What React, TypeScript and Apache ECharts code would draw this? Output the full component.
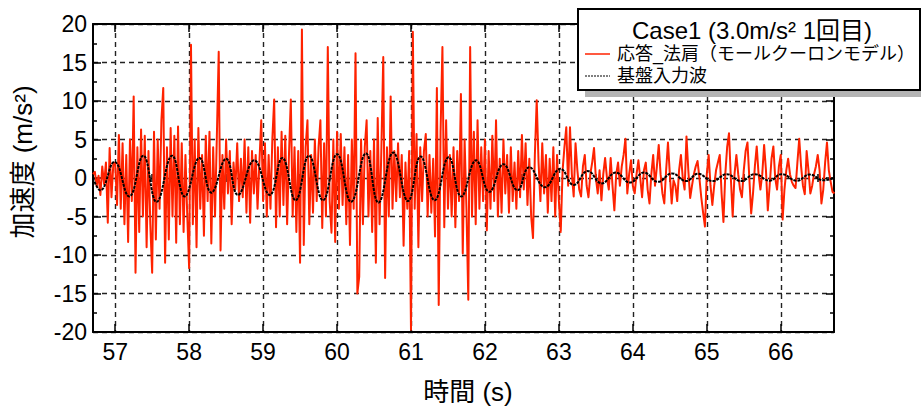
import React, { useEffect, useRef } from "react";
import * as echarts from "echarts";

// ---- Data ----
const sampleStep = 0.025; // s between samples of the response record

// Response acceleration (応答_法肩), one array per second, first value at the given start time
const redStarts = [56.7, 57, 58, 59, 60, 61, 62, 63, 64, 65, 66];
const red56 = [0.5, 0.8, -1.0, 0.3, -2.2, 1.5, -0.8, 2.0, -5.8, 3.9, -2.5, 1.8];
const red57 = [2.0, -3.5, 5.6, -4.0, 4.5, -6.0, 3.0, -8.3, 5.0, -3.0, 10.6, -12.3, 4.0, -7.0, 6.3, -5.0, 5.5, -9.0, 3.5, -6.0, -12.3, 6.0, -8.0, 5.0, -4.0, 7.5, 11.7, -11.0, 4.0, -8.0, 6.5, -5.0, 5.5, -8.4, 6.7, -6.0, 4.5, -7.0, 3.0, -5.0];
const red58 = [-11.7, 17.3, -6.0, 5.0, -9.0, 6.5, -4.0, 3.0, -7.5, 5.5, -3.0, 6.0, -8.5, 4.0, -5.0, 5.5, 16.4, -9.4, 3.0, -4.0, 5.0, -2.0, 3.5, -6.0, 2.0, -1.5, 4.5, -3.0, 2.5, -2.5, 5.0, -4.5, 4.0, -5.8, 3.5, -2.0, 3.0, -4.0, 2.0, 7.5];
const red59 = [-3.0, 4.5, -5.0, 3.0, -4.0, 5.0, 10.2, -6.4, 4.0, -5.0, 6.0, -3.5, 5.5, -6.0, 3.0, 10.2, -5.0, 4.0, -7.0, 3.5, -11.0, 19.3, -8.7, 4.0, 7.5, -6.0, 3.0, -4.5, 5.0, -3.0, 4.0, 7.5, -6.5, 4.5, -5.0, 17.0, -3.0, -7.1, 5.0, -8.3];
const red60 = [6.0, -4.0, 5.7, -3.5, 4.0, -6.0, 3.0, -8.7, 5.0, -4.0, 16.2, -15.0, -12.8, 5.0, -6.0, 4.0, 7.5, -5.0, 3.5, -7.0, 5.0, -11.0, 7.8, -6.0, 4.0, 15.7, -13.0, 4.0, -5.0, 10.6, -4.0, 3.5, -3.0, 4.5, -2.5, 3.0, -8.8, 2.0, -4.0, 3.5];
const red61 = [-19.7, 19.0, -4.0, 5.7, -9.0, 4.0, -3.0, 3.5, 5.7, -5.0, 3.0, -4.5, 2.5, -7.6, 11.7, -16.5, 6.0, 17.0, -6.4, 7.5, -4.0, 3.0, -5.0, 4.0, -6.4, 3.5, -3.0, 10.9, -9.8, 5.0, -4.0, -15.8, 17.0, -5.0, 6.0, -6.0, 7.5, -4.0, 4.0, -3.0];
const red62 = [5.0, -6.8, 3.5, -4.0, 5.5, -3.0, 7.5, -5.0, 2.5, -4.5, 5.0, -2.0, 3.0, -4.5, 4.0, -3.0, 2.0, -4.0, 3.5, -2.5, 5.6, -1.5, 4.5, -3.5, 2.5, -5.0, -7.8, 3.0, 10.1, 2.0, -3.0, 4.5, -2.0, 3.0, -4.5, 2.5, -3.0, 4.0, -5.0, 3.0];
const red63 = [-3.0, -7.0, 1.0, 4.0, 6.6, -1.0, 6.6, 0.5, -2.4, 4.5, 1.0, -1.5, -2.4, 1.5, 3.0, -1.0, -2.5, 0.5, 2.0, 3.9, 0.0, -2.0, 1.0, -2.9, 0.5, 2.6, 0.0, -1.5, 2.6, -1.0, -4.2, 0.5, 2.0, -1.0, 1.5, 3.0, 5.1, -2.0, 0.5, 2.3];
const red64 = [-1.0, -2.0, 0.5, 2.3, 0.0, -2.5, 1.0, 2.0, -1.5, -3.3, 0.5, 3.0, -1.0, 1.5, 4.3, 0.5, -2.0, -3.3, 1.0, 4.6, 0.5, -3.3, -0.3, -1.0, -3.0, 1.0, 3.0, 0.0, -1.5, 5.4, 1.0, -2.6, -1.0, 0.5, 1.5, 2.2, 0.0, -2.5, -4.5, -6.3];
const red65 = [0.5, 3.0, -1.0, -3.5, -1.0, 1.0, 2.0, 3.0, -2.0, -5.7, 0.5, 4.0, 5.8, 0.0, -5.0, 0.5, 3.0, 0.5, -1.5, -2.5, 1.0, 3.5, 4.6, 0.0, -4.6, -2.0, 1.5, 4.1, 0.5, -1.5, 0.5, 4.3, 1.0, -4.2, -1.0, 2.5, 4.1, 0.0, -1.5, 1.5];
const red66 = [3.0, -5.4, -1.5, 1.0, 2.5, 0.5, -0.5, -1.0, -1.3, 2.0, 5.1, 1.5, -1.0, -2.1, 3.5, 1.0, -2.0, -1.0, 0.5, 1.5, 3.0, 1.0, -3.3, -1.5, 2.0, 4.6, 1.0, -0.5, -1.8, -2.0];
const redChunks = [red56, red57, red58, red59, red60, red61, red62, red63, red64, red65, red66];

// Base input wave (基盤入力波): extreme points
const blackTimes = [56.70, 56.80, 56.99, 57.19, 57.38, 57.56, 57.77, 57.94, 58.14, 58.30, 58.50, 58.66, 58.88, 59.09, 59.26, 59.44, 59.62, 59.81, 60.00, 60.19, 60.39, 60.56, 60.76, 60.96, 61.13, 61.32, 61.51, 61.68, 61.88, 62.06, 62.25, 62.44, 62.60, 62.81, 63.02, 63.20, 63.39, 63.58, 63.77, 63.96, 64.15, 64.34, 64.53, 64.72, 64.88, 65.08, 65.27, 65.46, 65.65, 65.85, 66.01, 66.22, 66.39, 66.58, 66.72];
const blackValues = [0.0, -1.6, 2.1, -2.4, 2.9, -3.1, 2.9, -2.4, 2.6, -1.9, 2.5, -2.2, 2.3, -2.2, 2.6, -2.9, 2.9, -2.9, 3.1, -3.1, 3.2, -3.2, 3.3, -3.0, 2.8, -2.9, 2.7, -2.4, 2.3, -1.8, 1.8, -1.6, 1.4, -1.2, 1.2, -0.9, 0.9, -0.7, 0.7, -0.6, 0.7, -0.5, 0.6, -0.4, 0.55, -0.4, 0.5, -0.4, 0.5, -0.35, 0.5, -0.35, 0.45, -0.3, 0.0];

// Axes
const xMin = 56.7;
const xMax = 66.72;
const xMajor = [57, 58, 59, 60, 61, 62, 63, 64, 65, 66];
const xMinor = [57.5, 58.5, 59.5, 60.5, 61.5, 62.5, 63.5, 64.5, 65.5, 66.5];
const yMin = -20;
const yMax = 20;
const yStep = 5;

const seriesNames = ["応答_法肩（モールクーロンモデル）", "基盤入力波"];
const legendTitle = "Case1 (3.0m/s² 1回目)";
const xTitle = "時間 (s)";
const yTitle = "加速度 (m/s²)";

const RED = "#ff2200";
const LATIN = "'Liberation Sans', Arial, 'Noto Sans CJK JP', sans-serif";
const CJK = "'Liberation Sans', 'Noto Sans CJK JP', sans-serif";

export default function App() {
  const ref = useRef<HTMLDivElement>(null);

  useEffect(() => {
    if (!ref.current) return;
    const chart = echarts.init(ref.current, undefined, { renderer: "svg" });

    const redData: number[][] = [];
    redChunks.forEach((chunk, c) => {
      chunk.forEach((v, i) => {
        redData.push([+(redStarts[c] + i * sampleStep).toFixed(3), v]);
      });
    });
    const blackData = blackTimes.map((t, i) => [t, blackValues[i]]);

    const gridLine = { show: true, lineStyle: { color: "#222", width: 1.4, type: [5, 4] as any } };
    const axisLine = { show: true, onZero: false, lineStyle: { color: "#000", width: 2 } };

    const baseX = { type: "value" as const, min: xMin, max: xMax };
    const baseY = { type: "value" as const, min: yMin, max: yMax, interval: yStep };

    chart.setOption({
      animation: false,
      backgroundColor: "#fff",
      grid: { left: 93, right: 87, top: 24, bottom: 80, containLabel: false },
      xAxis: [
        {
          ...baseX,
          position: "bottom",
          axisLine,
          axisTick: { show: true, inside: true, length: 8, customValues: xMajor, lineStyle: { color: "#000", width: 1.5 } },
          axisLabel: { show: true, customValues: xMajor, margin: 8, fontSize: 23, color: "#000", fontFamily: LATIN },
          splitLine: gridLine,
        },
        {
          ...baseX,
          position: "bottom",
          axisLine: { show: false },
          axisTick: { show: true, inside: true, length: 4, customValues: xMinor, lineStyle: { color: "#000", width: 1.5 } },
          axisLabel: { show: false },
          splitLine: { show: false },
        },
        {
          ...baseX,
          position: "top",
          axisLine,
          axisTick: { show: true, inside: true, length: 8, customValues: xMajor, lineStyle: { color: "#000", width: 1.5 } },
          axisLabel: { show: false },
          splitLine: { show: false },
        },
        {
          ...baseX,
          position: "top",
          axisLine: { show: false },
          axisTick: { show: true, inside: true, length: 4, customValues: xMinor, lineStyle: { color: "#000", width: 1.5 } },
          axisLabel: { show: false },
          splitLine: { show: false },
        },
      ],
      yAxis: [
        {
          ...baseY,
          position: "left",
          axisLine,
          axisTick: { show: true, inside: true, length: 8, lineStyle: { color: "#000", width: 1.5 } },
          minorTick: { show: true, splitNumber: 2, length: 4, lineStyle: { color: "#000", width: 1.5 } },
          axisLabel: { show: true, margin: 6, fontSize: 23, color: "#000", fontFamily: LATIN },
          splitLine: gridLine,
        },
        {
          ...baseY,
          position: "right",
          axisLine,
          axisTick: { show: true, inside: true, length: 8, lineStyle: { color: "#000", width: 1.5 } },
          minorTick: { show: true, splitNumber: 2, length: 4, lineStyle: { color: "#000", width: 1.5 } },
          axisLabel: { show: false },
          splitLine: { show: false },
        },
      ],
      series: [
        {
          name: seriesNames[0],
          type: "line",
          xAxisIndex: 0,
          yAxisIndex: 0,
          data: redData,
          showSymbol: false,
          symbol: "none",
          clip: true,
          lineStyle: { color: RED, width: 2, join: "round" },
          z: 3,
        },
        {
          name: seriesNames[1],
          type: "line",
          xAxisIndex: 0,
          yAxisIndex: 0,
          data: blackData,
          showSymbol: false,
          symbol: "none",
          smooth: 0.45,
          clip: true,
          lineStyle: { color: "#000", width: 2, type: [3, 1] as any },
          z: 4,
        },
      ],
      graphic: [
        // axis titles
        {
          type: "text",
          x: 468,
          y: 392,
          style: { text: xTitle, font: `26px ${CJK}`, fill: "#000", align: "center", verticalAlign: "middle" },
          z: 10,
        },
        {
          type: "text",
          x: 23,
          y: 162,
          rotation: Math.PI / 2,
          style: { text: yTitle, font: `26px ${CJK}`, fill: "#000", align: "center", verticalAlign: "middle" },
          z: 10,
        },
        // legend box
        {
          type: "rect",
          shape: { x: 585, y: 15, width: 340, height: 82 },
          style: { fill: "#b4b4b4" },
          z: 20,
        },
        {
          type: "rect",
          shape: { x: 578, y: 9, width: 342, height: 81 },
          style: { fill: "#fff", stroke: "#000", lineWidth: 2 },
          z: 21,
        },
        {
          type: "text",
          x: 752,
          y: 30,
          style: { text: legendTitle, font: `24px ${LATIN}`, fill: "#000", align: "center", verticalAlign: "middle" },
          z: 22,
        },
        {
          type: "line",
          shape: { x1: 585, y1: 54, x2: 610, y2: 54 },
          style: { stroke: RED, lineWidth: 1.5 },
          z: 22,
        },
        {
          type: "text",
          x: 617,
          y: 54,
          style: { text: seriesNames[0], font: `18px ${CJK}`, fill: "#000", align: "left", verticalAlign: "middle" },
          z: 22,
        },
        {
          type: "line",
          shape: { x1: 585, y1: 76, x2: 610, y2: 76 },
          style: { stroke: "#000", lineWidth: 1.2, lineDash: [2, 1] },
          z: 22,
        },
        {
          type: "text",
          x: 617,
          y: 76,
          style: { text: seriesNames[1], font: `18px ${CJK}`, fill: "#000", align: "left", verticalAlign: "middle" },
          z: 22,
        },
      ],
    });

    return () => chart.dispose();
  }, []);

  return <div ref={ref} style={{ width: 921, height: 412, position: "absolute", left: 0, top: 0 }} />;
}
